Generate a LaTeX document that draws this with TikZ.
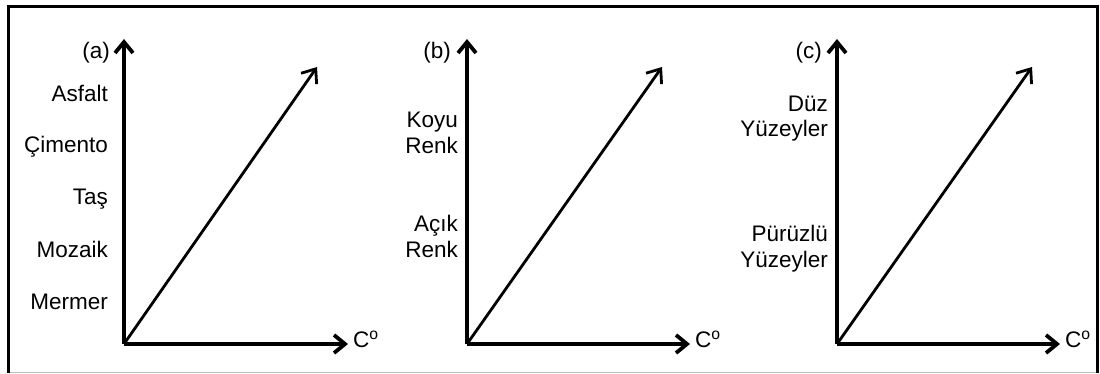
\documentclass[tikz,border=0pt]{standalone}
\usepackage{fontspec}
\setmainfont{Liberation Sans}
\usetikzlibrary{arrows.meta}
\tikzset{
  axis/.style={line width=3.8pt,-{Straight Barb[length=11pt,width=18pt]}},
  diag/.style={line width=2.8pt,-{Straight Barb[length=12pt,width=19pt]}},
  lbl/.style={anchor=base east,inner sep=0pt,font=\fontsize{22.5}{26}\selectfont},
  clbl/.style={anchor=base west,inner sep=0pt,font=\fontsize{22.5}{26}\selectfont},
}
\begin{document}
\begin{tikzpicture}[x=1pt,y=-1pt]
\useasboundingbox (0,0) rectangle (1100,374);
% frame
\draw[line width=0.8pt,black!25] (8,372) -- (1097,372);
\draw[line width=3pt] (8,373) -- (8,7) -- (1097,7) -- (1097,373);
% panel a
\coordinate (oa) at (124,344);
\coordinate (ya) at (124,39);
\coordinate (xa) at (348,344);
\coordinate (da) at (317,67);
\draw[axis] (oa) -- (ya);
\draw[axis] (oa) -- (xa);
\draw[diag] (oa) -- (da);
\node[lbl] (la) at (110,59) {(a)};
\node[lbl] (a1) at (108,101.5) {Asfalt};
\node[lbl] (a2) at (108,153) {Çimento};
\node[lbl] (a3) at (108,205) {Taş};
\node[lbl] (a4) at (108,257) {Mozaik};
\node[lbl] (a5) at (108,309) {Mermer};
\node[clbl] (ca) at (353,347) {C\textsuperscript{o}};
% panel b
\coordinate (ob) at (467,344);
\coordinate (yb) at (467,39);
\coordinate (xb) at (690,344);
\coordinate (db) at (662,67);
\draw[axis] (ob) -- (yb);
\draw[axis] (ob) -- (xb);
\draw[diag] (ob) -- (db);
\node[lbl] (lb) at (451,59) {(b)};
\node[lbl] (b1) at (458,128) {Koyu};
\node[lbl] (b2) at (458,154) {Renk};
\node[lbl] (b3) at (458,232) {Açık};
\node[lbl] (b4) at (458,257) {Renk};
\node[clbl] (cb) at (695,347) {C\textsuperscript{o}};
% panel c
\coordinate (oc) at (837,344);
\coordinate (yc) at (837,39);
\coordinate (xc) at (1060,344);
\coordinate (dc) at (1032,67);
\draw[axis] (oc) -- (yc);
\draw[axis] (oc) -- (xc);
\draw[diag] (oc) -- (dc);
\node[lbl] (lc) at (822,59) {(c)};
\node[lbl] (c1) at (828,112) {Düz};
\node[lbl] (c2) at (828,137) {Yüzeyler};
\node[lbl] (c3) at (828,241) {Pürüzlü};
\node[lbl] (c4) at (828,267) {Yüzeyler};
\node[clbl] (cc) at (1065,347) {C\textsuperscript{o}};
\end{tikzpicture}
\end{document}
